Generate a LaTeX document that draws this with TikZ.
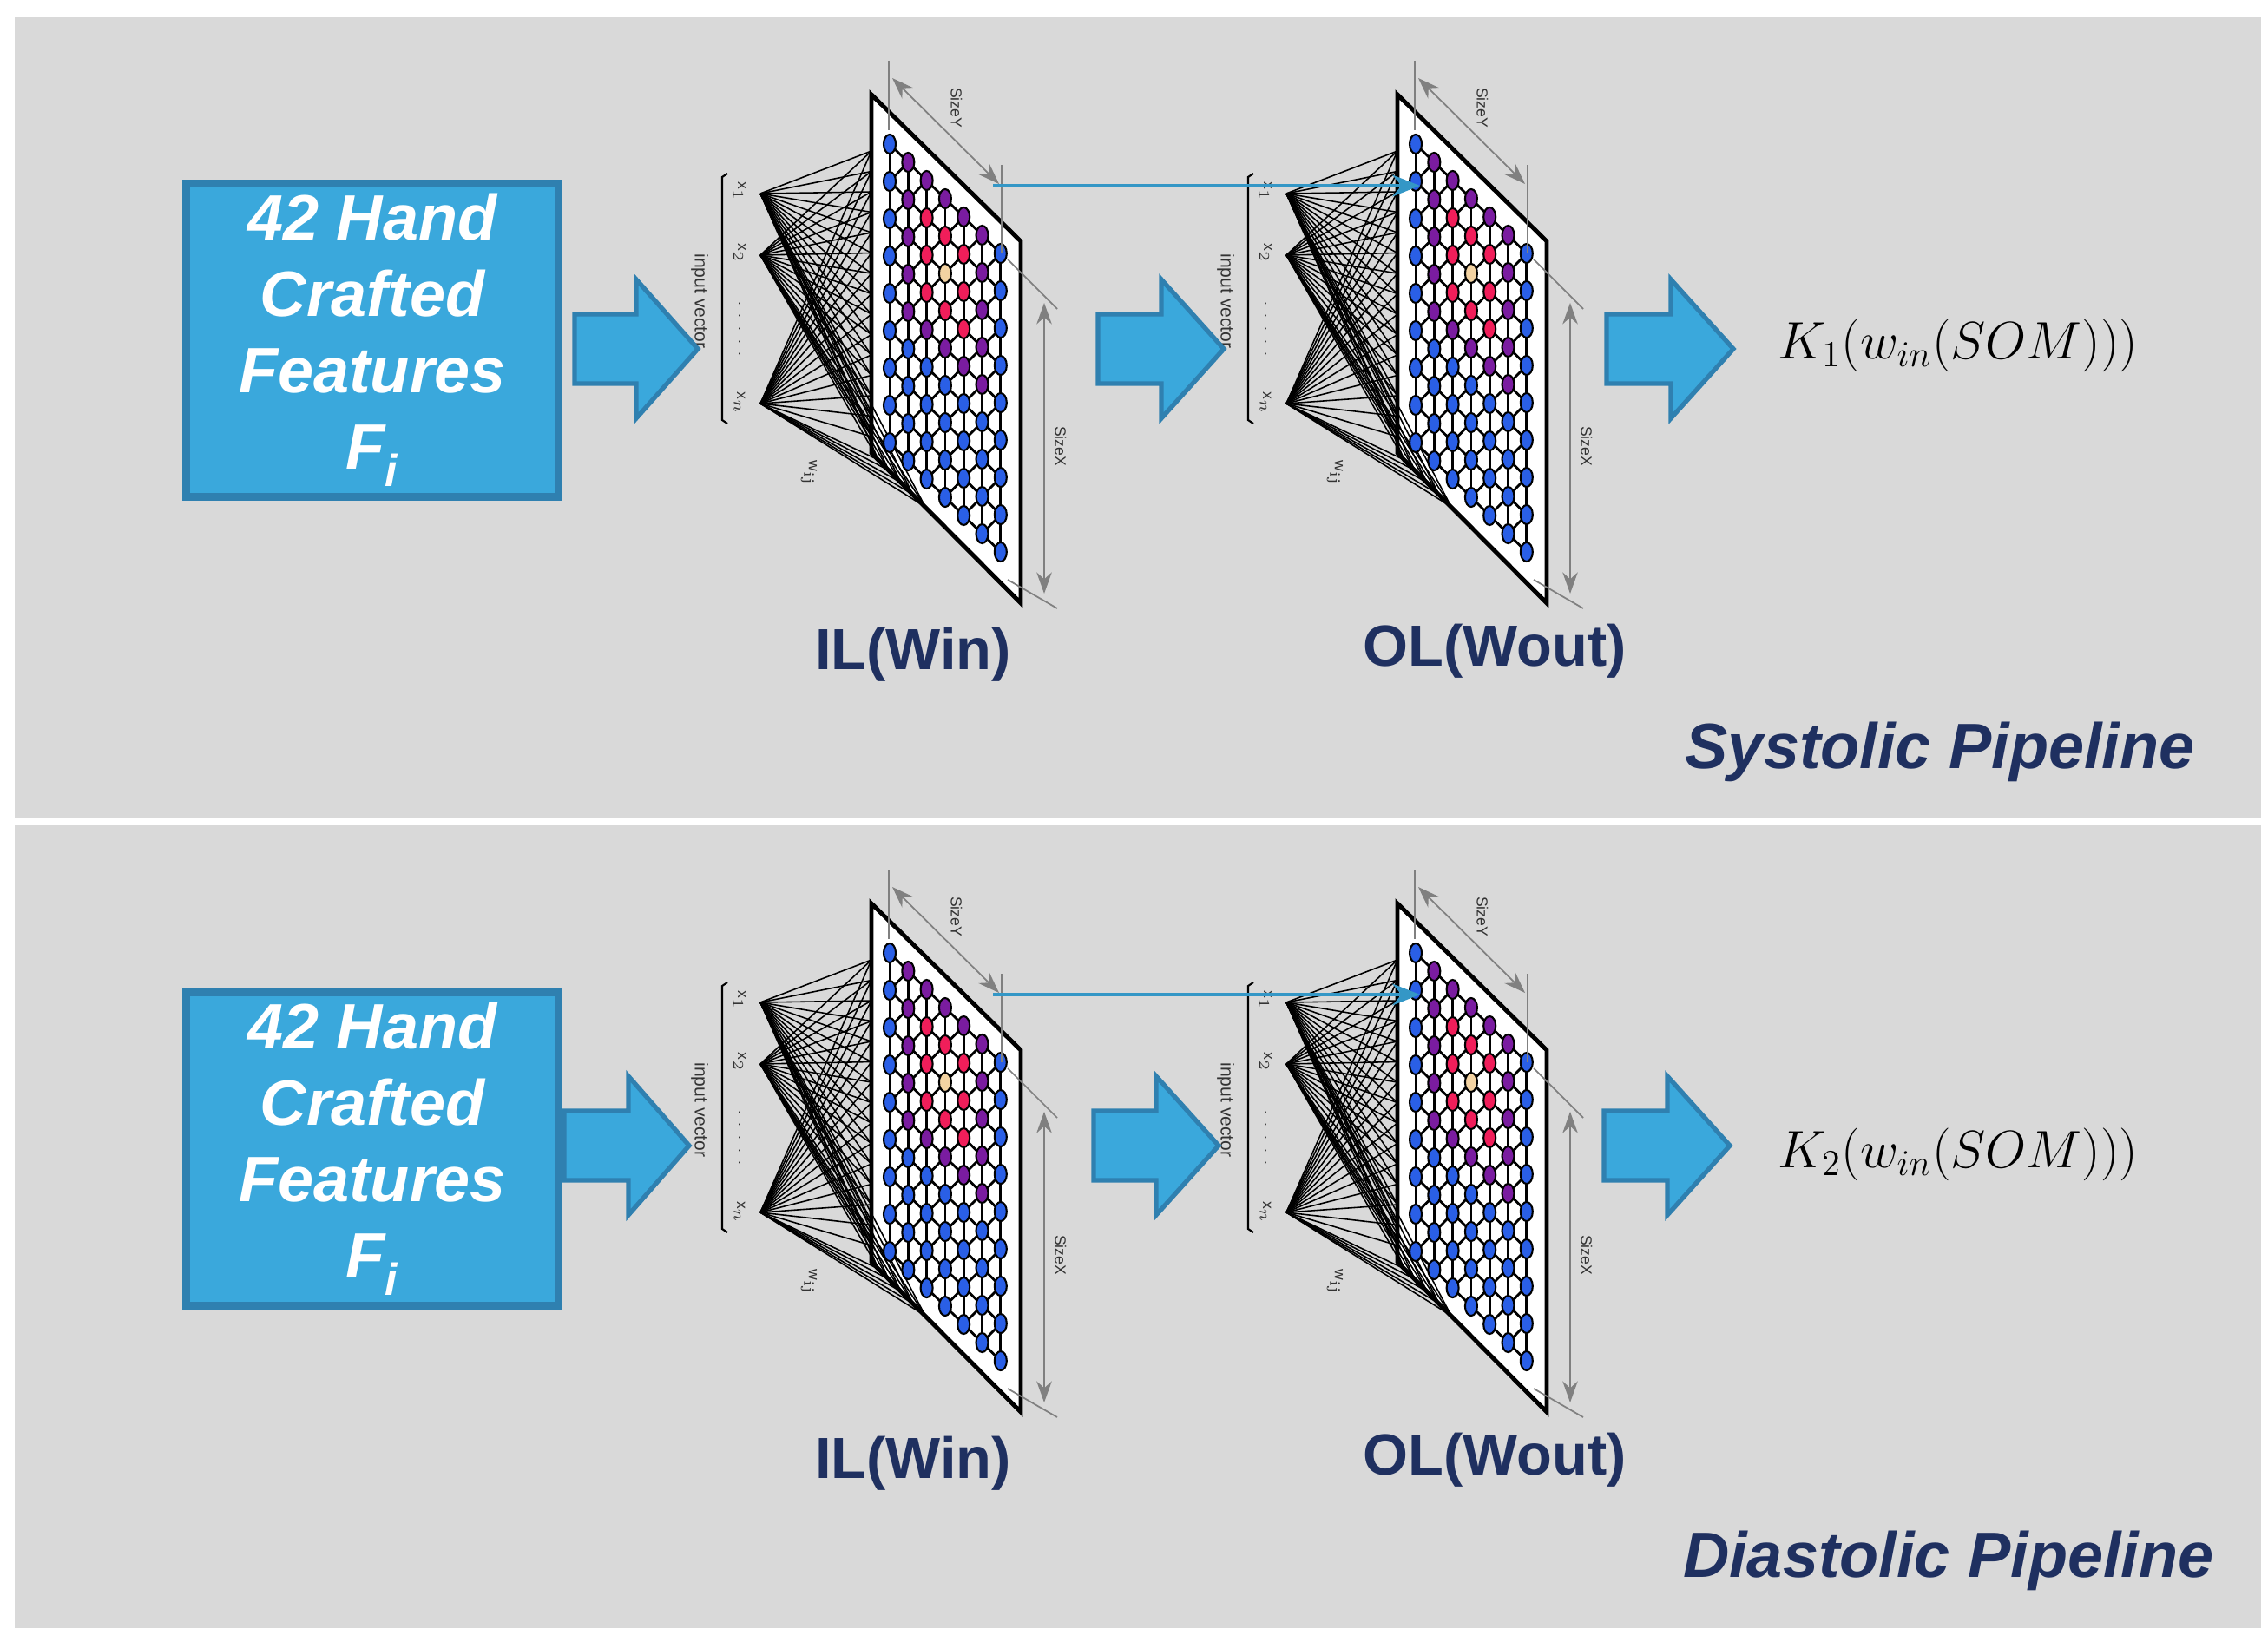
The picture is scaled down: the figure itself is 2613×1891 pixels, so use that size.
\documentclass[tikz,border=0pt]{standalone}
\usepackage{fontspec}
\newfontfamily\arial{Liberation Sans}
\usetikzlibrary{arrows.meta}
\definecolor{panel}{HTML}{D9D9D9}
\definecolor{boxblue}{HTML}{3AA8DC}
\definecolor{boxedge}{HTML}{2F80B0}
\definecolor{navy}{HTML}{1F3060}
\definecolor{sb}{HTML}{2A5FE6}
\definecolor{sp}{HTML}{7A1CA0}
\definecolor{sr}{HTML}{F01E5A}
\definecolor{sy}{HTML}{F3D3A2}
\tikzset{
  feat/.style={draw=boxedge,line width=2.5pt,fill=boxblue,minimum width=4.29cm,minimum height=3.58cm,align=center,text=white,font=\arial\bfseries\itshape\fontsize{21}{25}\selectfont},
  barrow/.style={fill=boxblue,draw=boxedge,line width=1.5pt},
  lay/.style={font=\arial\bfseries\fontsize{19}{22}\selectfont,text=navy},
  pipe/.style={font=\arial\bfseries\itshape\fontsize{21}{25}\selectfont,text=navy},
  tiny/.style={font=\arial\fontsize{5}{6}\selectfont,text=black!80,rotate=-90},
  dim/.style={draw=gray,line width=0.5pt},
  neuron/.style={draw=black,line width=0.6pt},
}
\newcommand{\blockarrow}[5]{% name, x0, xh, xt, yc
  \path[barrow] (#2,#5-40) -- (#3,#5-40) -- (#3,#5-80) -- (#4,#5) -- (#3,#5+80) -- (#3,#5+40) -- (#2,#5+40) -- cycle;
  \coordinate (#1) at (#4,#5);}
\newcommand{\somlayer}[1]{% prefix
  % plane
  \path[fill=white,draw=black,line width=1.4pt] (1004,109) coordinate (#1tl) -- (1176,278) -- (1176,695) -- (1004,522) coordinate (#1bl) -- cycle;
  % fan lines
  \foreach \fy [count=\k] in {223,294,465}{
    \coordinate (#1f\k) at (876,\fy);
    \foreach \t in {0,...,14}{ \draw[line width=0.45pt] (#1f\k) -- (1004,174+\t*23.5); }
    \foreach \s in {8,20,34,48,62}{ \draw[line width=0.45pt] (#1f\k) -- (1004+\s,522+\s); }
  }
  % mesh
  \foreach \c in {0,...,6}{
    \foreach \r in {0,...,8}{
      \coordinate (#1n\c-\r) at (1025+\c*21.3,166+\c*21+\r*43);
    }}
  \foreach \c in {0,...,6}{
    \foreach \r in {0,...,7}{
      \pgfmathtruncatemacro\rn{\r+1}
      \draw[line width=0.8pt] (#1n\c-\r) -- (#1n\c-\rn);
    }}
  \foreach \c in {0,...,5}{
    \pgfmathtruncatemacro\cn{\c+1}
    \foreach \r in {0,...,8}{
      \draw[line width=0.8pt] (#1n\c-\r) -- (#1n\cn-\r);
      \ifnum\r>0 \pgfmathtruncatemacro\rp{\r-1}\draw[line width=0.8pt] (#1n\c-\r) -- (#1n\cn-\rp);\fi
    }}
  \foreach \c/\cl in {0/{sb,sb,sb,sb,sb,sb,sb,sb,sb},1/{sp,sp,sp,sp,sp,sb,sb,sb,sb},2/{sp,sr,sr,sr,sp,sb,sb,sb,sb},3/{sp,sr,sy,sr,sp,sb,sb,sb,sb},4/{sp,sr,sr,sr,sp,sb,sb,sb,sb},5/{sp,sp,sp,sp,sp,sb,sb,sb,sb},6/{sb,sb,sb,sb,sb,sb,sb,sb,sb}}{
    \foreach \col [count=\r from 0] in \cl{
      \path[neuron,fill=\col] (#1n\c-\r) ellipse [x radius=7,y radius=11];
    }}
  % bracket and labels
  \draw[line width=0.6pt] (838,200) -- (832,204) -- (832,484) -- (838,488);
  \node[tiny] (#1x1) at (852,221) {x$_1$};
  \node[tiny] (#1x2) at (852,292) {x$_2$};
  \node[tiny] (#1xd) at (852,379) {.\ \ .\ \ .\ \ .\ \ .};
  \node[tiny] (#1xn) at (852,465) {x$_n$};
  \node[tiny,font=\arial\fontsize{6}{7}\selectfont] (#1iv) at (806,347) {input vector};
  \node[tiny] (#1w) at (932,545) {w$_{\mathrm{ij}}$};
  % SizeY
  \coordinate (#1ya) at (1024,70); \coordinate (#1yb) at (1024,150);
  \draw[dim] (#1ya) -- (#1yb);
  \coordinate (#1yc) at (1154,190); \coordinate (#1yd) at (1154,292);
  \draw[dim] (#1yc) -- (#1yd);
  \coordinate (#1y1) at (1028,90); \coordinate (#1y2) at (1151,212);
  \draw[dim,{Stealth[length=7,width=5]}-{Stealth[length=7,width=5]}] (#1y1) -- (#1y2);
  \node[tiny] (#1sy) at (1102,124) {SizeY};
  % SizeX
  \coordinate (#1e1) at (1161,299); \coordinate (#1e2) at (1218,356);
  \coordinate (#1e3) at (1161,668); \coordinate (#1e4) at (1218,701);
  \draw[dim] (#1e1) -- (#1e2); \draw[dim] (#1e3) -- (#1e4);
  \coordinate (#1x1a) at (1203,349); \coordinate (#1x2a) at (1203,684);
  \draw[dim,{Stealth[length=7,width=5]}-{Stealth[length=7,width=5]}] (#1x1a) -- (#1x2a);
  \node[tiny] (#1sx) at (1222,514) {SizeX};
}
\newcommand{\pipeline}[5]{% prefix, dy, K, title, title x
  \begin{scope}[shift={(0,#2)}]
    \node[feat] (#1box) at (429,392) {42 Hand\\Crafted\\Features\\F\textsubscript{\raisebox{-0.35ex}{i}}};
    \begin{scope}\somlayer{#1a}\end{scope}
    \begin{scope}[shift={(606,0)}]\somlayer{#1b}\end{scope}
    \coordinate (#1ls) at (1144,214); \coordinate (#1le) at (1636,214);
    \draw[boxblue!90!black,line width=1.4pt,-{Stealth[length=9,width=7]}] (#1ls) -- (#1le);
    \node[lay] (#1il) at (1052,754) {IL(Win)};
    \node[lay] (#1ol) at (1722,750) {OL(Wout)};
    \node[anchor=west,font=\fontsize{17}{20}\selectfont] (#1k) at (2036,398) {$K_{#3}(w_{in}(SOM)))$};
    \node[pipe,anchor=east] (#1t) at (#5,866) {#4};
  \end{scope}}
\begin{document}
\begin{tikzpicture}[x=0.01cm,y=-0.01cm]
\useasboundingbox (0,0) rectangle (2613,1891);
\fill[white] (0,0) rectangle (2613,1891);
\fill[panel] (17,20) rectangle (2605,943);
\fill[panel] (17,951) rectangle (2605,1876);
\pipeline{s}{0}{1}{Systolic Pipeline}{2541}
\pipeline{d}{932}{2}{Diastolic Pipeline}{2563}
\blockarrow{a1}{662}{733}{804}{402}
\blockarrow{a2}{1265}{1338}{1410}{402}
\blockarrow{a3}{1851}{1925}{1997}{402}
\blockarrow{b1}{650}{724}{794}{1320}
\blockarrow{b2}{1260}{1332}{1404}{1320}
\blockarrow{b3}{1848}{1921}{1993}{1320}
\end{tikzpicture}
\end{document}
